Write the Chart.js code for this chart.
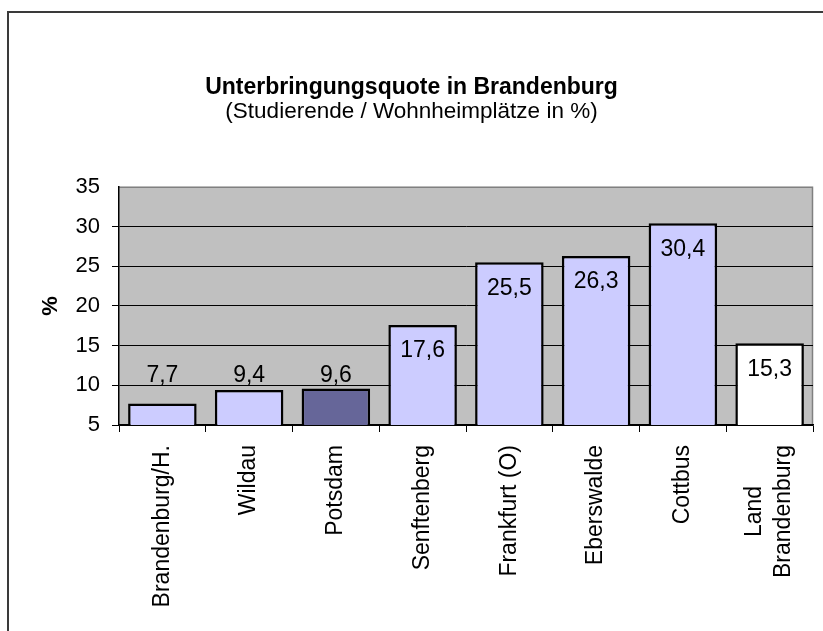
<!DOCTYPE html>
<html>
<head>
<meta charset="utf-8">
<script src="https://cdn.jsdelivr.net/npm/chart.js@4.4.1/dist/chart.umd.min.js"></script>
<style>
  html, body { margin: 0; padding: 0; background: #ffffff; }
  canvas { display: block; }
</style>
</head>
<body>
<canvas id="c" width="823" height="631"></canvas>
<script>
// ---- data ----
const categories = [
  'Brandenburg/H.', 'Wildau', 'Potsdam', 'Senftenberg',
  'Frankfurt (O)', 'Eberswalde', 'Cottbus', ['Land', 'Brandenburg']
];
const values = [7.7, 9.4, 9.6, 17.6, 25.5, 26.3, 30.4, 15.3];
const barColors = ['#CCCCFF', '#CCCCFF', '#666699', '#CCCCFF', '#CCCCFF', '#CCCCFF', '#CCCCFF', '#FFFFFF'];
const yTicks = { min: 5, max: 35, step: 5 };
const titleText = 'Unterbringungsquote in Brandenburg';
const subtitleText = '(Studierende / Wohnheimplätze in %)';
const yTitle = '%';

const FONT = "'Liberation Sans', Arial, sans-serif";
const X_FONT_SIZE = 23;
const X_LINE_H = 29;

const frame = {
  id: 'frame',
  beforeDraw(chart) {
    const ctx = chart.ctx;
    const a = chart.chartArea;
    ctx.save();
    ctx.fillStyle = '#ffffff';
    ctx.fillRect(0, 0, chart.width, chart.height);
    ctx.strokeStyle = '#3a3a3a';
    ctx.lineWidth = 2;
    ctx.strokeRect(8, 12, 900, 900);
    ctx.fillStyle = '#C0C0C0';
    ctx.fillRect(a.left, a.top, a.right - a.left, a.bottom - a.top);
    ctx.strokeStyle = '#808080';
    ctx.lineWidth = 1.5;
    ctx.beginPath();
    ctx.moveTo(a.left, a.top + 0.5);
    ctx.lineTo(a.right - 0.5, a.top + 0.5);
    ctx.lineTo(a.right - 0.5, a.bottom);
    ctx.stroke();
    ctx.restore();
  }
};

// multi-line category labels: lines centred on each other and on the tick
const multiLineLabels = {
  id: 'multiLineLabels',
  afterDraw(chart) {
    const ctx = chart.ctx;
    const xs = chart.scales.x;
    const top = xs.top + 7 + 13;
    ctx.save();
    ctx.font = X_FONT_SIZE + 'px ' + FONT;
    ctx.fillStyle = '#000000';
    ctx.textBaseline = 'middle';
    categories.forEach((lab, i) => {
      if (!Array.isArray(lab)) return;
      const cx = xs.getPixelForTick(i);
      const widths = lab.map(t => ctx.measureText(t).width);
      const maxW = Math.max(...widths);
      lab.forEach((t, j) => {
        const lx = cx + (j - (lab.length - 1) / 2) * X_LINE_H;
        ctx.save();
        ctx.translate(lx, top + maxW / 2);
        ctx.rotate(-Math.PI / 2);
        ctx.textAlign = 'center';
        ctx.fillText(t, 0, 0);
        ctx.restore();
      });
    });
    ctx.restore();
  }
};

const valueLabels = {
  id: 'valueLabels',
  afterDatasetsDraw(chart) {
    const ctx = chart.ctx;
    const meta = chart.getDatasetMeta(0);
    const yScale = chart.scales.y;
    const axisBottom = yScale.getPixelForValue(yTicks.min);
    ctx.save();
    ctx.font = '23px ' + FONT;
    ctx.fillStyle = '#000000';
    ctx.textAlign = 'center';
    ctx.textBaseline = 'middle';
    meta.data.forEach((bar, i) => {
      const y = Math.min(bar.y + 26, axisBottom - 49);
      ctx.fillText(values[i].toFixed(1).replace('.', ','), bar.x, y);
    });
    ctx.restore();
  }
};

new Chart(document.getElementById('c'), {
  type: 'bar',
  data: {
    labels: categories,
    datasets: [{
      data: values,
      backgroundColor: barColors,
      borderColor: '#000000',
      borderWidth: 2.5,
      borderSkipped: false,
      barPercentage: 0.79,
      categoryPercentage: 1.0
    }]
  },
  options: {
    responsive: false,
    animation: false,
    devicePixelRatio: 1,
    layout: { padding: { left: 0, right: 0, top: 0, bottom: 0 } },
    plugins: {
      legend: { display: false },
      tooltip: { enabled: false },
      title: {
        display: true,
        text: titleText,
        color: '#000000',
        font: { family: FONT, size: 23, weight: 'bold', lineHeight: 1.2 },
        padding: { top: 74, bottom: 0 }
      },
      subtitle: {
        display: true,
        text: subtitleText,
        color: '#000000',
        font: { family: FONT, size: 22.5, weight: 'normal', lineHeight: 0.9 },
        padding: { top: 0, bottom: 65 }
      }
    },
    scales: {
      x: {
        afterFit(scale) { scale.height = 206; scale.paddingRight = 10; scale.paddingLeft = 0; },
        border: { display: true, color: '#000000', width: 1.5 },
        grid: {
          offset: true,
          drawOnChartArea: false,
          drawTicks: true,
          tickLength: 7,
          color: '#000000',
          lineWidth: 1
        },
        ticks: {
          minRotation: 90,
          maxRotation: 90,
          autoSkip: false,
          padding: 13,
          color: (c) => Array.isArray(categories[c.index]) ? 'rgba(0,0,0,0)' : '#000000',
          font: { family: FONT, size: X_FONT_SIZE, lineHeight: 1.25 }
        }
      },
      y: {
        min: yTicks.min,
        max: yTicks.max,
        afterFit(scale) { scale.width = 119; },
        border: { display: true, color: '#000000', width: 1.5 },
        grid: {
          drawTicks: true,
          tickLength: 7,
          color: (c) => (c.tick && c.tick.value === yTicks.max) ? 'rgba(0,0,0,0)' : '#000000',
          lineWidth: 1
        },
        ticks: {
          stepSize: yTicks.step,
          padding: 12,
          color: '#000000',
          font: { family: FONT, size: 22 }
        },
        title: {
          display: true,
          text: yTitle,
          color: '#000000',
          font: { family: FONT, size: 22, weight: 'bold', lineHeight: 1.2 },
          padding: { top: 38, bottom: 0 }
        }
      }
    }
  },
  plugins: [frame, multiLineLabels, valueLabels]
});
</script>
</body>
</html>
